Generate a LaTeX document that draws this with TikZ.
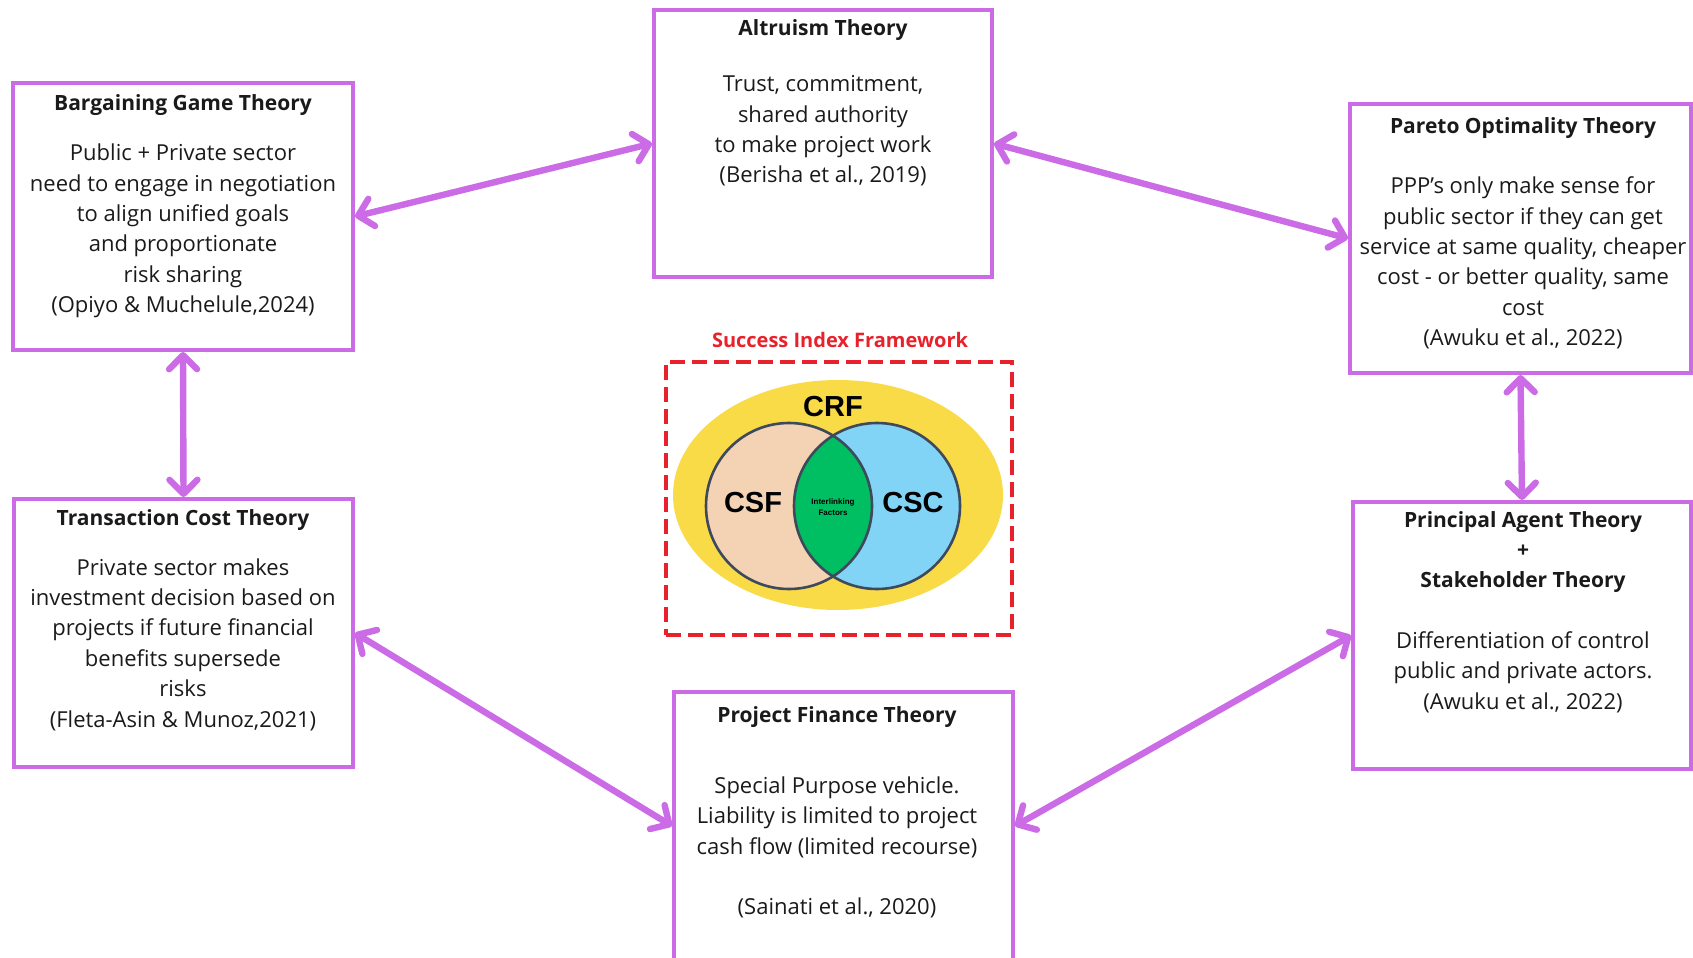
\documentclass[tikz,border=0pt]{standalone}
\usepackage{fontspec}
\setmainfont{Open Sans}
\newfontfamily\venfont{Liberation Sans}
\usetikzlibrary{arrows.meta,shapes.geometric}

\definecolor{linkpurple}{HTML}{CB6CE6}
\definecolor{framered}{HTML}{E8222B}
\definecolor{crfyellow}{HTML}{F9DA47}
\definecolor{csfpeach}{HTML}{F4D3B5}
\definecolor{cscblue}{HTML}{82D4F6}
\definecolor{linkgreen}{HTML}{00BF63}
\definecolor{ringgrey}{HTML}{3E4A5C}
\definecolor{inktext}{HTML}{1A1A1A}

\tikzset{
  theorybox/.style={draw=linkpurple, line width=2pt, inner sep=0pt, fill=none},
  ttl/.style={font=\bfseries\fontsize{10.5}{15.2}\selectfont, align=center, inner sep=0pt, text=inktext},
  body/.style={font=\fontsize{11}{15.2}\selectfont, align=center, inner sep=0pt, text=inktext},
  conn/.style={draw=linkpurple, line width=3.2pt, line cap=round,
    {Straight Barb[length=7pt,width=14pt,round]}-{Straight Barb[length=7pt,width=14pt,round]}},
  sifbox/.style={draw=framered, line width=2pt, dash pattern=on 7.5pt off 3.5pt, inner sep=0pt},
  ring/.style={draw=ringgrey, line width=1.3pt},
  vlabel/.style={font=\venfont\bfseries\fontsize{14.5}{16}\selectfont, inner sep=0pt}
}

\begin{document}
\begin{tikzpicture}[x=0.5pt,y=-0.5pt]
\useasboundingbox (0,0) rectangle (1693,958);
\clip (0,0) rectangle (1693,958);

% theory boxes
\node[theorybox, minimum width=170pt, minimum height=133.5pt] (bgt) at (183,216.5) {};
\node[theorybox, minimum width=169pt, minimum height=133.5pt] (alt) at (823,143.5) {};
\node[theorybox, minimum width=170.5pt, minimum height=134.5pt] (par) at (1520.5,238.5) {};
\node[theorybox, minimum width=169pt, minimum height=133.5pt] (pat) at (1522,635.5) {};
\node[theorybox, minimum width=169.5pt, minimum height=134pt] (tct) at (183.5,633) {};
\node[theorybox, minimum width=169.5pt, minimum height=134pt] (pft) at (843.5,826) {};

% Bargaining Game Theory
\node[ttl] (bgtT) at (183,105) {Bargaining Game Theory};
\node[body] (bgtB) at (183,231) {Public + Private sector\\need to engage in negotiation\\to align unified goals\\and proportionate\\risk sharing\\(Opiyo \& Muchelule,2024)};

% Altruism Theory
\node[ttl] (altT) at (823,30) {Altruism Theory};
\node[body] (altB) at (823,131) {Trust, commitment,\\shared authority\\to make project work\\(Berisha et al., 2019)};

% Pareto Optimality Theory
\node[ttl] (parT) at (1523,128) {Pareto Optimality Theory};
\node[body] (parB) at (1523,263) {PPP’s only make sense for\\public sector if they can get\\service at same quality, cheaper\\cost - or better quality, same\\cost\\(Awuku et al., 2022)};

% Principal Agent + Stakeholder Theory
\node[ttl] (patT) at (1523,552) {Principal Agent Theory\\+\\Stakeholder Theory};
\node[body] (patB) at (1523,672) {Differentiation of control\\public and private actors.\\(Awuku et al., 2022)};

% Transaction Cost Theory
\node[ttl] (tctT) at (183,520) {Transaction Cost Theory};
\node[body] (tctB) at (183,644.5) {Private sector makes\\investment decision based on\\projects if future financial\\benefits supersede\\risks\\(Fleta-Asin \& Munoz,2021)};

% Project Finance Theory
\node[ttl] (pftT) at (837,717) {Project Finance Theory};
\node[body] (pftB) at (837,817) {Special Purpose vehicle.\\Liability is limited to project\\cash flow (limited recourse)};
\node[body] (pftC) at (837,908) {(Sainati et al., 2020)};

% Success Index Framework
\node[font=\bfseries\fontsize{10}{12}\selectfont, text=framered, inner sep=0pt] (sifT) at (840,340) {Success Index Framework};
\node[sifbox, minimum width=173pt, minimum height=136.5pt] (sif) at (839,498.5) {};

\node[ellipse, fill=crfyellow, inner sep=0pt, minimum width=165pt, minimum height=115pt] (crf) at (838,495) {};
\node[circle, fill=csfpeach, inner sep=0pt, minimum size=83pt] (csf) at (789,506) {};
\node[circle, fill=cscblue, inner sep=0pt, minimum size=83pt] (csc) at (877,506) {};
\begin{scope}
  \clip (csf.center) circle (41.5pt);
  \fill[linkgreen] (csc.center) circle (41.5pt);
\end{scope}
\draw[ring] (csf.center) circle (41.5pt);
\draw[ring] (csc.center) circle (41.5pt);

\node[vlabel] (crfL) at (833,407) {CRF};
\node[vlabel] (csfL) at (753,503) {CSF};
\node[vlabel] (cscL) at (913,503) {CSC};
\node[font=\venfont\bfseries\fontsize{4}{5.8}\selectfont, align=center, inner sep=0pt] (intL) at (833,507) {Interlinking\\Factors};

% connectors
\draw[conn] (bgt.east) -- (alt.west);
\draw[conn] (alt.east) -- (par.west);
\draw[conn] (bgt.south) -- (tct.north);
\draw[conn] (par.south) -- (pat.north);
\draw[conn] (tct.east) -- (pft.west);
\draw[conn] (pft.east) -- (pat.west);
\end{tikzpicture}
\end{document}
